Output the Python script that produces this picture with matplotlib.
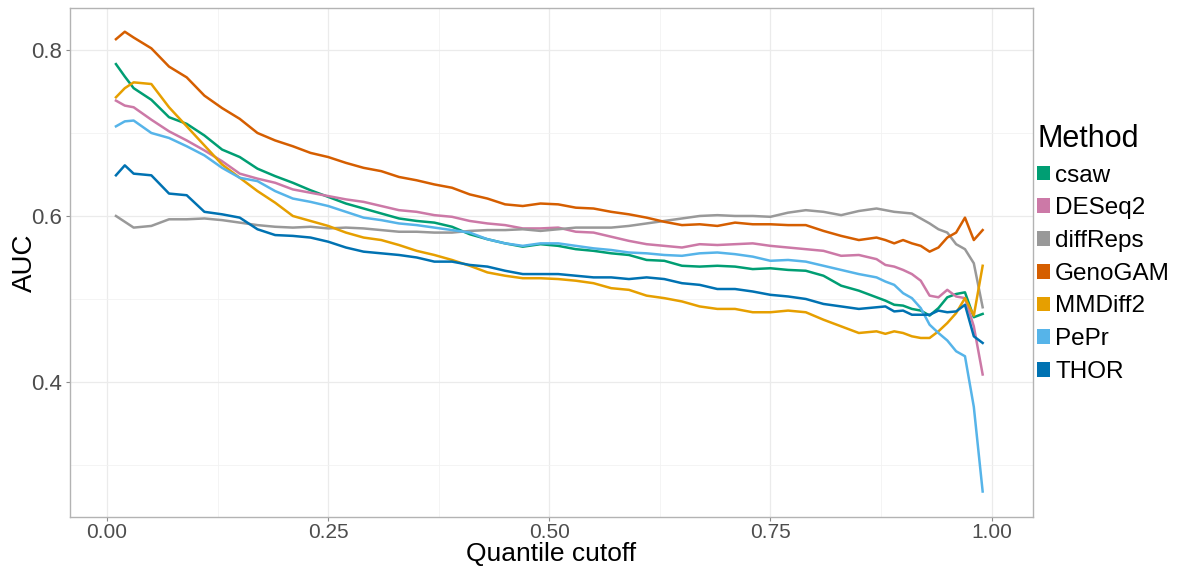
import matplotlib
matplotlib.use("Agg")
import matplotlib.pyplot as plt
from matplotlib.patches import Patch

# Quantile cutoffs at which AUC was evaluated
cutoff = ([0.01, 0.02] + [round(0.03 + 0.02 * i, 2) for i in range(42)]
          + [round(0.87 + 0.01 * i, 2) for i in range(13)])

methods = ["csaw", "DESeq2", "diffReps", "GenoGAM", "MMDiff2", "PePr", "THOR"]
colors = ["#009E73", "#CC79A7", "#999999", "#D55E00", "#E69F00", "#56B4E9", "#0072B2"]

csaw = [0.783, 0.768, 0.754, 0.740, 0.719, 0.711, 0.697, 0.680, 0.671, 0.657,
        0.648, 0.640, 0.631, 0.623, 0.615, 0.609, 0.603, 0.597, 0.594, 0.592,
        0.587, 0.578, 0.572, 0.567, 0.563, 0.566, 0.564, 0.560, 0.558, 0.555,
        0.553, 0.547, 0.546, 0.540, 0.539, 0.540, 0.539, 0.536, 0.537, 0.535,
        0.534, 0.528, 0.516, 0.510, 0.502, 0.498, 0.493, 0.492, 0.488, 0.486,
        0.480, 0.489, 0.502, 0.506, 0.508, 0.478, 0.482]

deseq2 = [0.739, 0.733, 0.731, 0.716, 0.702, 0.691, 0.679, 0.666, 0.651, 0.645,
          0.640, 0.632, 0.628, 0.624, 0.620, 0.617, 0.612, 0.607, 0.605, 0.601,
          0.599, 0.594, 0.591, 0.589, 0.585, 0.585, 0.586, 0.581, 0.580, 0.575,
          0.570, 0.566, 0.564, 0.562, 0.566, 0.565, 0.566, 0.567, 0.564, 0.562,
          0.560, 0.558, 0.552, 0.553, 0.548, 0.541, 0.539, 0.535, 0.530, 0.522,
          0.504, 0.502, 0.511, 0.503, 0.501, 0.467, 0.409]

diffreps = [0.600, 0.593, 0.586, 0.588, 0.596, 0.596, 0.597, 0.595, 0.592, 0.589,
            0.587, 0.586, 0.587, 0.585, 0.586, 0.585, 0.583, 0.581, 0.581, 0.580,
            0.580, 0.582, 0.583, 0.583, 0.584, 0.582, 0.584, 0.586, 0.586, 0.586,
            0.588, 0.591, 0.594, 0.597, 0.600, 0.601, 0.600, 0.600, 0.599, 0.604,
            0.607, 0.605, 0.601, 0.606, 0.609, 0.607, 0.605, 0.604, 0.603, 0.597,
            0.591, 0.584, 0.580, 0.566, 0.560, 0.543, 0.490]

genogam = [0.813, 0.822, 0.815, 0.802, 0.780, 0.767, 0.745, 0.730, 0.717, 0.700,
           0.691, 0.684, 0.676, 0.671, 0.664, 0.658, 0.654, 0.647, 0.643, 0.638,
           0.634, 0.626, 0.621, 0.614, 0.612, 0.615, 0.614, 0.610, 0.609, 0.605,
           0.602, 0.598, 0.593, 0.589, 0.590, 0.588, 0.592, 0.590, 0.590, 0.589,
           0.589, 0.582, 0.576, 0.571, 0.574, 0.571, 0.567, 0.571, 0.567, 0.564,
           0.557, 0.562, 0.574, 0.580, 0.598, 0.571, 0.583]

mmdiff2 = [0.743, 0.754, 0.761, 0.759, 0.731, 0.708, 0.685, 0.662, 0.646, 0.630,
           0.616, 0.600, 0.594, 0.588, 0.580, 0.574, 0.571, 0.565, 0.558, 0.553,
           0.547, 0.540, 0.532, 0.528, 0.525, 0.525, 0.524, 0.522, 0.519, 0.513,
           0.511, 0.504, 0.501, 0.497, 0.491, 0.488, 0.488, 0.484, 0.484, 0.486,
           0.484, 0.475, 0.467, 0.459, 0.461, 0.458, 0.461, 0.459, 0.455, 0.453,
           0.453, 0.461, 0.471, 0.483, 0.501, 0.480, 0.540]

pepr = [0.708, 0.714, 0.715, 0.700, 0.694, 0.684, 0.673, 0.658, 0.646, 0.642,
        0.630, 0.621, 0.617, 0.612, 0.605, 0.598, 0.595, 0.591, 0.589, 0.586,
        0.583, 0.580, 0.572, 0.567, 0.564, 0.567, 0.567, 0.564, 0.561, 0.559,
        0.556, 0.555, 0.553, 0.552, 0.555, 0.556, 0.554, 0.551, 0.546, 0.547,
        0.545, 0.540, 0.535, 0.530, 0.526, 0.521, 0.517, 0.507, 0.501, 0.489,
        0.469, 0.459, 0.450, 0.437, 0.431, 0.370, 0.268]

thor = [0.649, 0.661, 0.651, 0.649, 0.627, 0.625, 0.605, 0.602, 0.598, 0.584,
        0.577, 0.576, 0.574, 0.569, 0.562, 0.557, 0.555, 0.553, 0.550, 0.545,
        0.545, 0.541, 0.539, 0.534, 0.530, 0.530, 0.530, 0.528, 0.526, 0.526,
        0.524, 0.526, 0.524, 0.519, 0.517, 0.512, 0.512, 0.509, 0.505, 0.503,
        0.500, 0.494, 0.491, 0.488, 0.490, 0.491, 0.485, 0.486, 0.481, 0.481,
        0.481, 0.486, 0.484, 0.485, 0.493, 0.455, 0.447]

series = [csaw, deseq2, diffreps, genogam, mmdiff2, pepr, thor]

plt.rcParams["font.family"] = ["Liberation Sans", "DejaVu Sans"]

fig = plt.figure(figsize=(11.82, 5.67), dpi=100)
ax = fig.add_axes([0.0592, 0.0882, 0.8148, 0.8977])

for vals, col in zip(series, colors):
    ax.plot(cutoff, vals, color=col, lw=1.8, solid_joinstyle="round", zorder=3)

ax.set_xlim(-0.042, 1.047)
ax.set_ylim(0.2373, 0.8506)
ax.set_xticks([0.0, 0.25, 0.5, 0.75, 1.0])
ax.set_xticklabels(["0.00", "0.25", "0.50", "0.75", "1.00"])
ax.set_xticks([0.125, 0.375, 0.625, 0.875], minor=True)
ax.set_yticks([0.4, 0.6, 0.8])
ax.set_yticklabels(["0.4", "0.6", "0.8"])
ax.set_yticks([0.3, 0.5, 0.7], minor=True)

ax.grid(which="major", color="#EBEBEB", lw=0.9, zorder=0)
ax.grid(which="minor", color="#F2F2F2", lw=0.6, zorder=0)
ax.set_axisbelow(True)
for sp in ax.spines.values():
    sp.set_color("#B3B3B3")
    sp.set_linewidth(1.0)

ax.tick_params(which="major", length=3, width=0.8, color="#8C8C8C",
               labelcolor="#4D4D4D")
ax.tick_params(axis="x", which="major", pad=1, labelsize=15)
ax.tick_params(axis="y", which="major", pad=3, labelsize=16)
ax.tick_params(which="minor", length=0)

ax.set_xlabel("Quantile cutoff", fontsize=19, color="black", labelpad=0)
ax.set_ylabel("AUC", fontsize=20, color="black")
ax.yaxis.set_label_coords(-0.033, 0.5)

handles = [Patch(facecolor=c, edgecolor="none") for c in colors]
leg = fig.legend(handles, methods, loc="upper left",
                 bbox_to_anchor=(1037 / 1182, 1 - 124 / 567),
                 frameon=False, fontsize=17.5, title="Method", title_fontsize=22,
                 handlelength=0.55, handleheight=0.55, handletextpad=0.2,
                 labelspacing=0.44, borderaxespad=0, borderpad=0)
leg._legend_box.align = "left"

fig.savefig("out.png", dpi=100)
